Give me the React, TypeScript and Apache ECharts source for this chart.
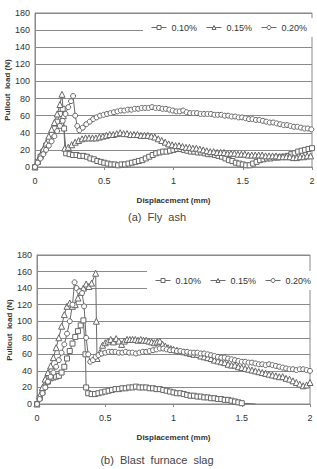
import React, { useEffect, useRef } from "react";
import * as echarts from "echarts";

// Displacement (mm) vs pullout load (N) readings, [displacement, load]
const flyAsh010: number[][] = [
  [0, 0], [0.02, 6], [0.04, 12], [0.06, 18], [0.08, 25], [0.1, 31], [0.12, 38], [0.14, 45], [0.16, 53], [0.18, 62], [0.2, 68],
  [0.21, 45], [0.225, 16], [0.25, 15], [0.275, 14], [0.3, 14], [0.325, 13], [0.35, 13], [0.375, 12], [0.4, 10], [0.425, 9],
  [0.45, 7], [0.475, 6], [0.5, 5], [0.525, 4], [0.55, 3], [0.575, 3], [0.6, 2], [0.625, 3], [0.65, 3], [0.675, 4], [0.7, 5],
  [0.725, 6], [0.75, 7], [0.775, 8], [0.8, 10], [0.825, 12], [0.85, 14], [0.875, 16], [0.9, 17], [0.925, 18], [0.95, 18],
  [0.975, 19], [1.0, 20], [1.025, 21], [1.05, 21], [1.075, 20], [1.1, 19], [1.125, 18], [1.15, 18], [1.175, 17], [1.2, 17],
  [1.225, 16], [1.25, 15], [1.275, 15], [1.3, 14], [1.325, 13], [1.35, 12], [1.375, 10], [1.4, 8], [1.425, 7], [1.45, 5],
  [1.475, 4], [1.5, 3], [1.525, 2], [1.55, 2], [1.575, 4], [1.6, 6], [1.625, 8], [1.65, 9], [1.675, 10], [1.7, 10],
  [1.725, 11], [1.75, 11], [1.775, 12], [1.8, 12], [1.825, 13], [1.85, 15], [1.875, 16], [1.9, 18], [1.925, 19], [1.95, 20],
  [1.975, 21], [2.0, 22],
];

const flyAsh015: number[][] = [
  [0, 0], [0.02, 7], [0.04, 14], [0.06, 21], [0.08, 28], [0.1, 36], [0.12, 44], [0.14, 52], [0.16, 62], [0.18, 73], [0.195, 85],
  [0.205, 60], [0.215, 22], [0.24, 23], [0.265, 26], [0.29, 29], [0.315, 31], [0.34, 33], [0.365, 34], [0.39, 34], [0.415, 34],
  [0.44, 34], [0.465, 35], [0.49, 36], [0.515, 37], [0.54, 38], [0.565, 38], [0.59, 39], [0.615, 40], [0.64, 39], [0.665, 39],
  [0.69, 38], [0.715, 38], [0.74, 38], [0.765, 37], [0.79, 37], [0.815, 37], [0.84, 36], [0.865, 35], [0.89, 33], [0.915, 31],
  [0.94, 29], [0.965, 27], [0.99, 26], [1.015, 25], [1.04, 25], [1.065, 24], [1.09, 23], [1.115, 23], [1.14, 22], [1.165, 22],
  [1.19, 21], [1.215, 20], [1.24, 19], [1.265, 18], [1.29, 18], [1.315, 17], [1.34, 17], [1.365, 17], [1.39, 16], [1.415, 16],
  [1.44, 16], [1.465, 15], [1.49, 15], [1.515, 15], [1.54, 14], [1.565, 14], [1.59, 14], [1.615, 14], [1.64, 14], [1.665, 13],
  [1.69, 13], [1.715, 13], [1.74, 13], [1.765, 12], [1.79, 12], [1.815, 12], [1.84, 12], [1.865, 11], [1.89, 11], [1.915, 12],
  [1.94, 12], [1.965, 13], [1.99, 13],
];

const flyAsh020: number[][] = [
  [0, 0], [0.02, 5], [0.04, 10], [0.06, 15], [0.08, 20], [0.1, 25], [0.12, 30], [0.14, 36], [0.16, 42], [0.18, 48], [0.2, 54],
  [0.22, 62], [0.24, 70], [0.26, 77], [0.275, 83], [0.29, 60], [0.305, 48], [0.32, 43], [0.345, 46], [0.37, 50], [0.395, 53],
  [0.42, 56], [0.445, 58], [0.47, 60], [0.495, 61], [0.52, 62], [0.545, 63], [0.57, 64], [0.595, 65], [0.62, 66], [0.645, 66],
  [0.67, 67], [0.695, 67], [0.72, 68], [0.745, 68], [0.77, 69], [0.795, 69], [0.82, 69], [0.845, 70], [0.87, 69], [0.895, 69],
  [0.92, 68], [0.945, 68], [0.97, 67], [0.995, 66], [1.02, 65], [1.045, 65], [1.07, 66], [1.095, 64], [1.12, 63], [1.145, 63],
  [1.17, 63], [1.195, 62], [1.22, 62], [1.245, 62], [1.27, 62], [1.295, 61], [1.32, 61], [1.345, 61], [1.37, 60], [1.395, 60],
  [1.42, 59], [1.445, 59], [1.47, 58], [1.495, 58], [1.52, 57], [1.545, 56], [1.57, 56], [1.595, 55], [1.62, 55], [1.645, 54],
  [1.67, 53], [1.695, 52], [1.72, 52], [1.745, 51], [1.77, 50], [1.795, 49], [1.82, 49], [1.845, 48], [1.87, 47], [1.895, 47],
  [1.92, 46], [1.945, 45], [1.97, 45], [1.995, 44],
];

const slag010: number[][] = [
  [0, 0], [0.02, 7], [0.04, 14], [0.06, 21], [0.08, 27], [0.1, 31], [0.12, 32], [0.14, 33], [0.16, 34], [0.18, 38], [0.2, 45],
  [0.22, 55], [0.24, 64], [0.26, 73], [0.28, 81], [0.3, 88], [0.32, 95], [0.34, 101], [0.355, 60], [0.36, 20], [0.375, 13],
  [0.4, 12], [0.425, 12], [0.45, 13], [0.475, 14], [0.5, 15], [0.525, 16], [0.55, 17], [0.575, 18], [0.6, 18], [0.625, 19],
  [0.65, 19], [0.675, 20], [0.7, 20], [0.725, 21], [0.75, 20], [0.775, 20], [0.8, 20], [0.825, 19], [0.85, 19], [0.875, 18],
  [0.9, 18], [0.925, 17], [0.95, 16], [0.975, 15], [1.0, 14], [1.025, 13], [1.05, 13], [1.075, 12], [1.1, 11], [1.125, 10],
  [1.15, 10], [1.175, 9], [1.2, 9], [1.225, 8], [1.25, 8], [1.275, 7], [1.3, 7], [1.325, 6], [1.35, 6], [1.375, 5], [1.4, 5],
  [1.425, 4], [1.45, 3], [1.475, 2], [1.5, 1],
];
// trailing unmarked segment of the 0.10% slag trace
const slag010Tail: number[] = [1.6, 0];

const slag015: number[][] = [
  [0, 0], [0.02, 10], [0.04, 20], [0.06, 30], [0.08, 38], [0.1, 46], [0.12, 56], [0.14, 68], [0.16, 80], [0.18, 94], [0.2, 108],
  [0.22, 118], [0.24, 122], [0.26, 118], [0.28, 120], [0.3, 128], [0.32, 135], [0.34, 140], [0.36, 145], [0.38, 142], [0.4, 146],
  [0.43, 158], [0.435, 100], [0.44, 55], [0.46, 62], [0.48, 71], [0.5, 74], [0.52, 76], [0.54, 78], [0.56, 75], [0.58, 79],
  [0.6, 76], [0.62, 72], [0.64, 76], [0.66, 78], [0.68, 78], [0.7, 78], [0.72, 78], [0.74, 77], [0.76, 78], [0.78, 77],
  [0.8, 77], [0.82, 76], [0.84, 75], [0.86, 74], [0.88, 75], [0.9, 76], [0.92, 72], [0.94, 70], [0.96, 68], [0.98, 67],
  [1.0, 66], [1.025, 65], [1.05, 64], [1.075, 63], [1.1, 62], [1.125, 61], [1.15, 60], [1.175, 60], [1.2, 58], [1.225, 57],
  [1.25, 56], [1.275, 55], [1.3, 53], [1.325, 52], [1.35, 51], [1.375, 50], [1.4, 48], [1.425, 47], [1.45, 47], [1.475, 45],
  [1.5, 44], [1.525, 43], [1.55, 42], [1.575, 41], [1.6, 40], [1.625, 39], [1.65, 38], [1.675, 37], [1.7, 36], [1.725, 35],
  [1.75, 34], [1.775, 33], [1.8, 33], [1.825, 31], [1.85, 30], [1.875, 28], [1.9, 26], [1.925, 24], [1.95, 22], [1.975, 23],
  [2.0, 26],
];

const slag020: number[][] = [
  [0, 0], [0.02, 6], [0.04, 13], [0.06, 20], [0.08, 27], [0.1, 33], [0.12, 38], [0.14, 45], [0.16, 53], [0.18, 62], [0.2, 72],
  [0.22, 85], [0.24, 100], [0.26, 120], [0.275, 147], [0.29, 140], [0.31, 136], [0.33, 134], [0.345, 118], [0.36, 80],
  [0.375, 60], [0.39, 51], [0.41, 53], [0.43, 57], [0.45, 59], [0.475, 61], [0.5, 62], [0.525, 63], [0.55, 63], [0.575, 63],
  [0.6, 62], [0.625, 62], [0.65, 63], [0.675, 62], [0.7, 62], [0.725, 61], [0.75, 62], [0.775, 63], [0.8, 63], [0.825, 64],
  [0.85, 65], [0.875, 66], [0.9, 67], [0.925, 67], [0.95, 66], [0.975, 65], [1.0, 65], [1.025, 64], [1.05, 64], [1.075, 63],
  [1.1, 63], [1.125, 62], [1.15, 62], [1.175, 62], [1.2, 61], [1.225, 61], [1.25, 60], [1.275, 59], [1.3, 58], [1.325, 57],
  [1.35, 56], [1.375, 56], [1.4, 55], [1.425, 54], [1.45, 53], [1.475, 52], [1.5, 51], [1.525, 51], [1.55, 50], [1.575, 50],
  [1.6, 49], [1.625, 48], [1.65, 48], [1.675, 47], [1.7, 48], [1.725, 47], [1.75, 46], [1.775, 45], [1.8, 44], [1.825, 43],
  [1.85, 42], [1.875, 42], [1.9, 41], [1.925, 42], [1.95, 42], [1.975, 41], [2.0, 40],
];

const seriesNames = ["0.10%", "0.15%", "0.20%"];
const seriesSymbols = ["rect", "triangle", "circle"];
const yTicks = { min: 0, max: 180, interval: 20 };
const xTicks = { min: 0, max: 2, interval: 0.5 };
const captions = ["(a)  Fly  ash", "(b)  Blast  furnace  slag"];
const xTitle = "Displacement (mm)";
const yTitle = "Pullout  load (N)";

const FONT = "'Liberation Sans', Arial, sans-serif";
const GRID_LINE = "#8a8a8a";
const MARK = "#666";

function lineSeries(name: string, symbol: string, data: any[], grid: number) {
  return {
    type: "line",
    name,
    xAxisIndex: grid,
    yAxisIndex: grid,
    data,
    symbol,
    symbolSize: symbol === "triangle" ? 6 : 5,
    showAllSymbol: true,
    color: "#6a6a6a",
    lineStyle: { color: "#6a6a6a", width: 1 },
    itemStyle: { color: "#fff", borderColor: MARK, borderWidth: 1 },
    emphasis: { disabled: true },
    z: 3,
  };
}

function xAxis(grid: number) {
  return {
    type: "value",
    gridIndex: grid,
    ...xTicks,
    name: xTitle,
    nameLocation: "middle",
    nameGap: 29,
    nameTextStyle: { fontFamily: FONT, fontSize: 8, color: "#333", fontWeight: "bold" },
    axisLine: { show: true, lineStyle: { color: GRID_LINE } },
    axisTick: { show: true, length: 3, inside: false, lineStyle: { color: GRID_LINE } },
    axisLabel: { fontFamily: FONT, fontSize: 9, color: "#333", margin: 9 },
    splitLine: { show: false },
  };
}

function yAxis(grid: number) {
  return {
    type: "value",
    gridIndex: grid,
    ...yTicks,
    axisLine: { show: true, lineStyle: { color: GRID_LINE } },
    axisTick: { show: false },
    axisLabel: { fontFamily: FONT, fontSize: 9, color: "#333", margin: 5 },
    splitLine: { show: true, lineStyle: { color: GRID_LINE, width: 1 } },
  };
}

function legend(left: number, top: number) {
  return {
    data: seriesNames,
    left,
    top,
    width: 220,
    orient: "horizontal",
    itemWidth: 15,
    itemHeight: 5,
    itemGap: 9,
    padding: [5, 6, 5, 8],
    backgroundColor: "#fff",
    itemStyle: { color: "#fff", borderColor: MARK, borderWidth: 1 },
    lineStyle: { color: "#6a6a6a", width: 1 },
    textStyle: { fontFamily: FONT, fontSize: 9, color: "#333" },
    selectedMode: false,
    z: 10,
  };
}

function yTitleText(x: number, y: number) {
  return {
    type: "text",
    x,
    y,
    rotation: Math.PI / 2,
    style: { text: yTitle, fontFamily: FONT, fontSize: 8, fontWeight: "bold", fill: "#333", align: "center", verticalAlign: "middle" },
  };
}

function captionText(text: string, y: number) {
  return {
    type: "text",
    x: 157,
    y,
    style: { text, fontFamily: FONT, fontSize: 11, fill: "#444", align: "center", verticalAlign: "middle" },
  };
}

export default function App() {
  const ref = useRef<HTMLDivElement>(null);

  useEffect(() => {
    if (!ref.current) return;
    const chart = echarts.init(ref.current, null, { renderer: "svg" });
    const tailPoint = { value: slag010Tail, symbol: "none" };
    chart.setOption({
      animation: false,
      backgroundColor: "#fff",
      grid: [
        { left: 35, top: 13, width: 277, height: 154, show: true, borderColor: GRID_LINE, borderWidth: 1, backgroundColor: "transparent", outerBoundsMode: "none" },
        { left: 37, top: 255, width: 273, height: 149, show: true, borderColor: GRID_LINE, borderWidth: 1, backgroundColor: "transparent", outerBoundsMode: "none" },
      ],
      xAxis: [xAxis(0), xAxis(1)],
      yAxis: [yAxis(0), yAxis(1)],
      legend: [legend(143, 18), legend(147, 271)],
      series: [
        lineSeries(seriesNames[0], seriesSymbols[0], flyAsh010, 0),
        lineSeries(seriesNames[1], seriesSymbols[1], flyAsh015, 0),
        lineSeries(seriesNames[2], seriesSymbols[2], flyAsh020, 0),
        lineSeries(seriesNames[0], seriesSymbols[0], [...slag010, tailPoint], 1),
        lineSeries(seriesNames[1], seriesSymbols[1], slag015, 1),
        lineSeries(seriesNames[2], seriesSymbols[2], slag020, 1),
      ],
      graphic: [
        yTitleText(7, 90),
        yTitleText(9, 330),
        captionText(captions[0], 217),
        captionText(captions[1], 460),
      ],
    });
    return () => chart.dispose();
  }, []);

  return (
    <div
      ref={ref}
      style={{ position: "absolute", left: 0, top: 0, width: 317, height: 469, background: "#fff" }}
    />
  );
}
